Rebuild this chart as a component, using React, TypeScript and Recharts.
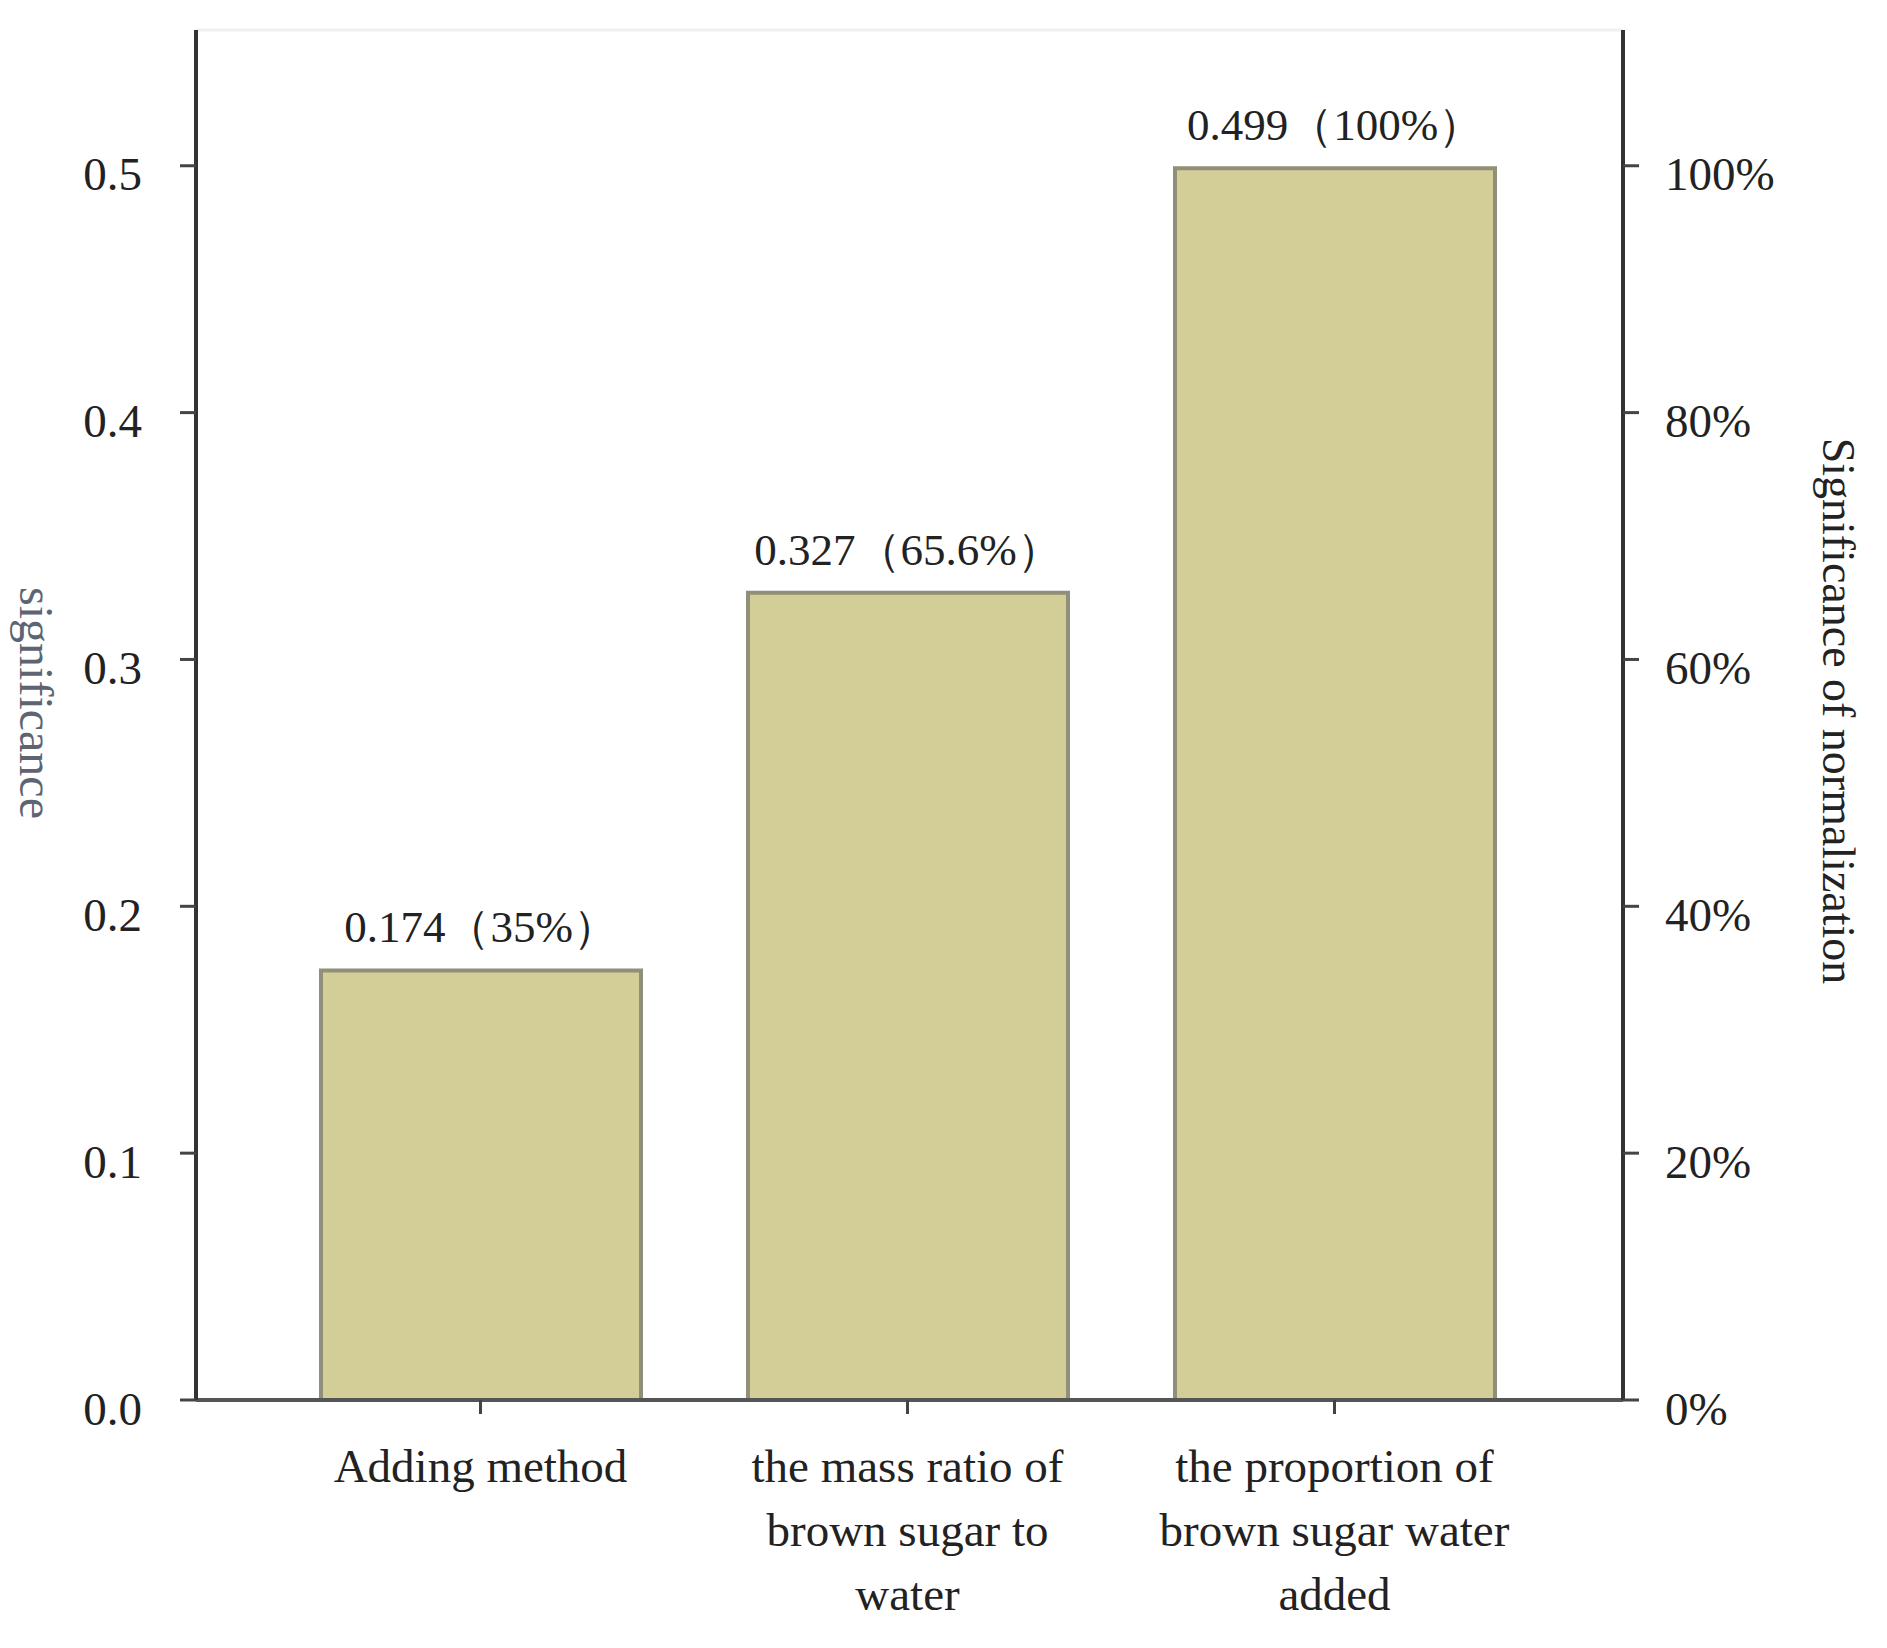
import { ComposedChart, Bar, Line, XAxis, YAxis, LabelList, ReferenceLine } from 'recharts';

const categories = ['Adding method', 'the mass ratio of brown sugar to water', 'the proportion of brown sugar water added'];
const categoryLines = [
  ['Adding method'],
  ['the mass ratio of', 'brown sugar to', 'water'],
  ['the proportion of', 'brown sugar water', 'added'],
];
const significance = [0.174, 0.327, 0.499];
const normalized = [35, 65.6, 100];
const leftTicks = [0, 0.1, 0.2, 0.3, 0.4, 0.5];
const rightTicks = [0, 20, 40, 60, 80, 100];

const data = categories.map((name, i) => ({
  name,
  value: significance[i],
  pct: normalized[i],
  label: `${significance[i]}（${normalized[i]}%）`,
}));

const FONT = '"Liberation Serif", "Times New Roman", serif';
const INK = '#222';

const XTick = ({ x, y, payload }: any) => {
  const lines = categoryLines[categories.indexOf(payload.value)] || [payload.value];
  return (
    <text x={x} y={y} textAnchor="middle" fontFamily={FONT} fontSize={47} fill={INK}>
      {lines.map((l, i) => (
        <tspan key={i} x={x} dy={i === 0 ? 66 : 64}>{l}</tspan>
      ))}
    </text>
  );
};

const LeftTitle = ({ viewBox }: any) => {
  const cx = viewBox.x + 36;
  const cy = viewBox.y + viewBox.height / 2 - 12;
  return (
    <text x={cx} y={cy} transform={`rotate(90, ${cx}, ${cy})`} textAnchor="middle" dominantBaseline="central"
      fontFamily={FONT} fontSize={48} fill="#5d6472">
      significance
    </text>
  );
};

const RightTitle = ({ viewBox }: any) => {
  const cx = viewBox.x + 215;
  const cy = viewBox.y + viewBox.height / 2 - 4;
  return (
    <text x={cx} y={cy} transform={`rotate(90, ${cx}, ${cy})`} textAnchor="middle" dominantBaseline="central"
      fontFamily={FONT} fontSize={46} fill={INK}>
      Significance of normalization
    </text>
  );
};

export default function App() {
  return (
    <div style={{ position: 'absolute', left: 0, top: 0, background: '#fff' }}>
      <ComposedChart width={1887} height={1648} data={data} margin={{ top: 30, right: 0, bottom: 0, left: 0 }}>
        <ReferenceLine yAxisId="left" y={0.555} stroke="#f0f0f0" strokeWidth={3} />
        <XAxis
          dataKey="name"
          height={248}
          padding={{ left: 71, right: 75 }}
          stroke="#555"
          strokeWidth={4}
          tickSize={14}
          tickLine={{ stroke: '#444', strokeWidth: 3 }}
          tick={<XTick />}
          interval={0}
        />
        <YAxis
          yAxisId="left"
          width={196}
          domain={[0, 0.555]}
          ticks={leftTicks}
          tickFormatter={(v: number) => v.toFixed(1)}
          stroke="#333"
          strokeWidth={4}
          tickSize={16}
          tickMargin={38}
          tickLine={{ stroke: '#444', strokeWidth: 3 }}
          tick={{ fontFamily: FONT, fontSize: 47, fill: INK, dy: 8 }}
          label={<LeftTitle />}
        />
        <YAxis
          yAxisId="right"
          orientation="right"
          width={264}
          domain={[0, 111]}
          ticks={rightTicks}
          tickFormatter={(v: number) => `${v}%`}
          stroke="#333"
          strokeWidth={4}
          tickSize={16}
          tickMargin={26}
          tickLine={{ stroke: '#444', strokeWidth: 3 }}
          tick={{ fontFamily: FONT, fontSize: 47, fill: INK, dy: 8 }}
          label={<RightTitle />}
        />
        <Bar yAxisId="left" dataKey="value" fill="#d3cd97" stroke="#8f8f7a" strokeWidth={4} barSize={320} isAnimationActive={false}>
          <LabelList dataKey="label" position="top" offset={28} fontFamily={FONT} fontSize={45} fill={INK} />
        </Bar>
        <Line yAxisId="right" dataKey="pct" stroke="none" strokeOpacity={0} dot={false} activeDot={false} legendType="none" isAnimationActive={false} />
      </ComposedChart>
    </div>
  );
}
